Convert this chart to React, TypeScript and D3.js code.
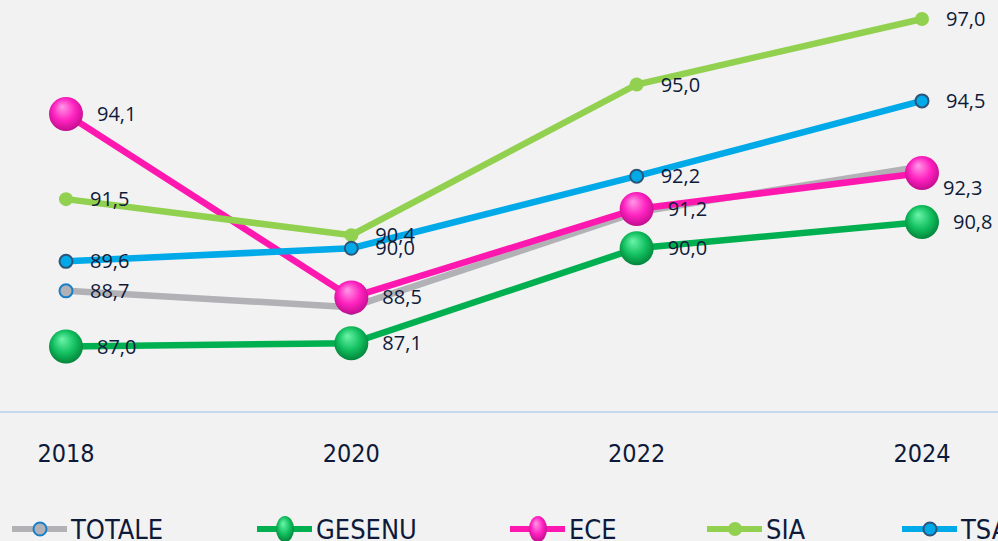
import React, { useEffect, useRef } from "react";
import * as d3 from "d3";

const years = ["2018", "2020", "2022", "2024"];
const seriesNames = ["TOTALE", "GESENU", "ECE", "SIA", "TSA"];
const totale = [88.7, 88.2, 91.1, 92.5];
const gesenu = [87.0, 87.1, 90.0, 90.8];
const ece = [94.1, 88.5, 91.2, 92.3];
const sia = [91.5, 90.4, 95.0, 97.0];
const tsa = [89.6, 90.0, 92.2, 94.5];
// which labels are drawn (TOTALE hidden at 2020/2022/2024 in the original)
const totaleLabels = [true, false, false, false];

const W = 998;
const H = 541;

type Marker = "hollow" | "sphere" | "dot" | "ring";

interface Series {
  name: string;
  values: number[];
  color: string;
  marker: Marker;
  showLabel: boolean[];
}

const App: React.FC = () => {
  const svgRef = useRef<SVGSVGElement>(null);

  useEffect(() => {
    if (!svgRef.current) return;
    const svg = d3.select(svgRef.current);
    svg.selectAll("*").remove();

    const series: Series[] = [
      { name: seriesNames[0], values: totale, color: "#b1b1b6", marker: "hollow", showLabel: totaleLabels },
      { name: seriesNames[1], values: gesenu, color: "#00b050", marker: "sphere", showLabel: [true, true, true, true] },
      { name: seriesNames[2], values: ece, color: "#ff18b0", marker: "sphere", showLabel: [true, true, true, true] },
      { name: seriesNames[3], values: sia, color: "#92d050", marker: "dot", showLabel: [true, true, true, true] },
      { name: seriesNames[4], values: tsa, color: "#00a9e8", marker: "ring", showLabel: [true, true, true, true] },
    ];

    svg.append("rect").attr("width", W).attr("height", H).attr("fill", "#f2f2f2");

    const defs = svg.append("defs");
    const mkGrad = (id: string, light: string, mid: string, dark: string) => {
      const gr = defs
        .append("radialGradient")
        .attr("id", id)
        .attr("cx", "50%")
        .attr("cy", "45%")
        .attr("fx", "38%")
        .attr("fy", "28%")
        .attr("r", "60%");
      gr.append("stop").attr("offset", "0%").attr("stop-color", light);
      gr.append("stop").attr("offset", "55%").attr("stop-color", mid);
      gr.append("stop").attr("offset", "100%").attr("stop-color", dark);
    };
    mkGrad("g-GESENU", "#6cf5aa", "#13c060", "#007a34");
    mkGrad("g-ECE", "#ff9ae8", "#ff22c0", "#b80a86");

    const x = d3.scalePoint<string>().domain(years).range([66, 922]);
    const y = d3.scaleLinear().domain([85, 97]).range([412, 19]);

    // baseline
    svg
      .append("line")
      .attr("x1", 0)
      .attr("x2", W)
      .attr("y1", y(85))
      .attr("y2", y(85))
      .attr("stroke", "#c6d9f1")
      .attr("stroke-width", 2);

    // category labels
    svg
      .append("g")
      .selectAll("text")
      .data(years)
      .enter()
      .append("text")
      .attr("x", (d) => x(d)!)
      .attr("y", 462)
      .attr("text-anchor", "middle")
      .attr("font-family", "'Liberation Sans Narrow', 'DejaVu Sans Condensed', sans-serif")
      .attr("font-size", 25)
      .attr("fill", "#0e1a3a")
      .text((d) => d);

    const line = d3
      .line<number>()
      .x((_, i) => x(years[i])!)
      .y((d) => y(d));

    const drawMarker = (
      g: d3.Selection<SVGGElement, unknown, null, undefined>,
      s: Series,
      cx: number,
      cy: number
    ) => {
      if (s.marker === "sphere") {
        g.append("circle")
          .attr("cx", cx)
          .attr("cy", cy)
          .attr("r", 17)
          .attr("fill", `url(#g-${s.name})`);
      } else if (s.marker === "dot") {
        g.append("circle").attr("cx", cx).attr("cy", cy).attr("r", 7).attr("fill", s.color);
      } else if (s.marker === "ring") {
        g.append("circle")
          .attr("cx", cx)
          .attr("cy", cy)
          .attr("r", 6.5)
          .attr("fill", s.color)
          .attr("stroke", "#2d5579")
          .attr("stroke-width", 2);
      } else {
        g.append("circle")
          .attr("cx", cx)
          .attr("cy", cy)
          .attr("r", 6.5)
          .attr("fill", s.color)
          .attr("stroke", "#1a7fc8")
          .attr("stroke-width", 2);
      }
    };

    series.forEach((s) => {
      const g = svg.append("g");
      g.append("path")
        .datum(s.values)
        .attr("fill", "none")
        .attr("stroke", s.color)
        .attr("stroke-width", 6.5)
        .attr("d", line);
      s.values.forEach((v, i) => drawMarker(g, s, x(years[i])!, y(v)));
    });

    // data labels
    const labels = svg.append("g");
    series.forEach((s) => {
      s.values.forEach((v, i) => {
        if (!s.showLabel[i]) return;
        let dx = s.marker === "sphere" ? 31 : 24;
        let dy = 0;
        if (s.name === "ECE" && i === 3) {
          dx = 21;
          dy = 15;
        }
        labels
          .append("text")
          .attr("x", x(years[i])! + dx)
          .attr("y", y(v) + dy)
          .attr("dy", "0.35em")
          .attr("font-family", "'Open Sans', sans-serif")
          .attr("font-size", 20)
          .attr("fill", "#0e1a3a")
          .text(v.toFixed(1).replace(".", ","));
      });
    });

    // legend
    const legendX = [12, 257, 510, 707, 902];
    const lg = svg.append("g");
    series.forEach((s, i) => {
      const g = lg.append("g");
      const lx = legendX[i];
      const ly = 529;
      g.append("line")
        .attr("x1", lx)
        .attr("x2", lx + 55)
        .attr("y1", ly)
        .attr("y2", ly)
        .attr("stroke", s.color)
        .attr("stroke-width", 6);
      if (s.marker === "sphere") {
        g.append("ellipse")
          .attr("cx", lx + 28)
          .attr("cy", ly)
          .attr("rx", 9)
          .attr("ry", 13)
          .attr("fill", `url(#g-${s.name})`);
      } else {
        drawMarker(g as any, s, lx + 28, ly);
      }
      g.append("text")
        .attr("x", lx + 59)
        .attr("y", ly + 10)
        .attr("font-family", "'Liberation Sans Narrow', 'DejaVu Sans Condensed', sans-serif")
        .attr("font-size", 27)
        .attr("fill", "#0e1a3a")
        .text(s.name);
    });
  }, []);

  return (
    <div style={{ position: "absolute", left: 0, top: 0, width: W, height: H }}>
      <svg ref={svgRef} width={W} height={H} style={{ display: "block" }} />
    </div>
  );
};

export default App;
